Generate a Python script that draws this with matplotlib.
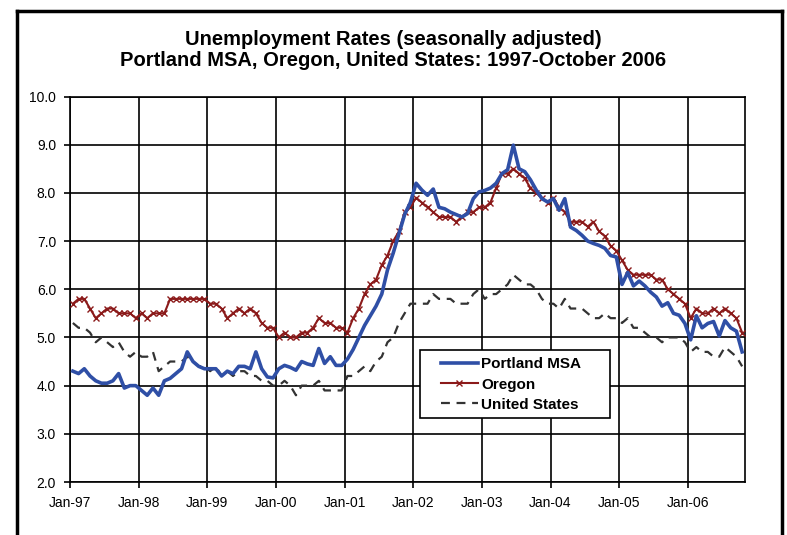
import numpy as np
import matplotlib.pyplot as plt
from matplotlib.lines import Line2D
from matplotlib.patches import Rectangle

plt.rcParams['font.family'] = ['Liberation Sans', 'DejaVu Sans']

# monthly values, Jan-97 .. Oct-06
portland = [
    4.3, 4.25, 4.35, 4.2, 4.1, 4.05, 4.05, 4.1, 4.25, 3.95, 4.0, 4.0,
    3.9, 3.8, 3.95, 3.8, 4.1, 4.15, 4.25, 4.35, 4.7, 4.5, 4.4, 4.35,
    4.35, 4.35, 4.2, 4.3, 4.25, 4.4, 4.4, 4.35, 4.7, 4.35, 4.18, 4.16,
    4.35, 4.42, 4.38, 4.32, 4.5, 4.45, 4.42, 4.77, 4.46, 4.6, 4.42, 4.42,
    4.55, 4.75, 5.0, 5.25, 5.45, 5.65, 5.9, 6.4, 6.75, 7.15, 7.55, 7.8,
    8.2, 8.06, 7.95, 8.08, 7.7, 7.67, 7.6, 7.55, 7.5, 7.57, 7.88, 8.02,
    8.05, 8.1, 8.2, 8.4, 8.48, 8.99, 8.5, 8.44, 8.27, 8.06, 7.88, 7.81,
    7.88, 7.64, 7.88, 7.29, 7.22, 7.12, 7.0, 6.95, 6.91, 6.85, 6.7, 6.67,
    6.1, 6.35, 6.07, 6.17, 6.07, 5.94, 5.84, 5.65, 5.72, 5.5, 5.46, 5.29,
    4.95, 5.45, 5.2, 5.29, 5.33, 5.03, 5.35, 5.2, 5.13, 4.7,
]
oregon = [
    5.7, 5.8, 5.8, 5.6, 5.4, 5.5, 5.6, 5.6, 5.5, 5.5, 5.5, 5.4,
    5.5, 5.4, 5.5, 5.5, 5.5, 5.8, 5.8, 5.8, 5.8, 5.8, 5.8, 5.8,
    5.7, 5.7, 5.6, 5.4, 5.5, 5.6, 5.5, 5.6, 5.5, 5.3, 5.2, 5.2,
    5.0, 5.1, 5.0, 5.0, 5.1, 5.1, 5.2, 5.4, 5.3, 5.3, 5.2, 5.2,
    5.1, 5.4, 5.6, 5.9, 6.1, 6.2, 6.5, 6.7, 7.0, 7.2, 7.6, 7.7,
    7.9, 7.8, 7.7, 7.6, 7.5, 7.5, 7.5, 7.4, 7.5, 7.6, 7.6, 7.7,
    7.7, 7.8, 8.1, 8.4, 8.4, 8.5, 8.4, 8.3, 8.1, 8.0, 7.9, 7.8,
    7.9, 7.7, 7.6, 7.4, 7.4, 7.4, 7.3, 7.4, 7.2, 7.1, 6.9, 6.8,
    6.6, 6.4, 6.3, 6.3, 6.3, 6.3, 6.2, 6.2, 6.0, 5.9, 5.8, 5.7,
    5.4, 5.6, 5.5, 5.5, 5.6, 5.5, 5.6, 5.5, 5.4, 5.1,
]
united_states = [
    5.3, 5.2, 5.2, 5.1, 4.9, 5.0, 4.9, 4.8, 4.9, 4.7, 4.6, 4.7,
    4.6, 4.6, 4.7, 4.3, 4.4, 4.5, 4.5, 4.5, 4.6, 4.5, 4.4, 4.4,
    4.3, 4.4, 4.2, 4.3, 4.2, 4.3, 4.3, 4.2, 4.2, 4.1, 4.1, 4.0,
    4.0, 4.1, 4.0, 3.8, 4.0, 4.0, 4.0, 4.1, 3.9, 3.9, 3.9, 3.9,
    4.2, 4.2, 4.3, 4.4, 4.3, 4.5, 4.6, 4.9, 5.0, 5.3, 5.5, 5.7,
    5.7, 5.7, 5.7, 5.9, 5.8, 5.8, 5.8, 5.7, 5.7, 5.7, 5.9, 6.0,
    5.8, 5.9, 5.9, 6.0, 6.1, 6.3, 6.2, 6.1, 6.1, 6.0, 5.8, 5.7,
    5.7, 5.6, 5.8, 5.6, 5.6, 5.6, 5.5, 5.4, 5.4, 5.5, 5.4, 5.4,
    5.3, 5.4, 5.2, 5.2, 5.1, 5.0, 5.0, 4.9, 5.0, 5.0, 5.0, 4.9,
    4.7, 4.8, 4.7, 4.7, 4.6, 4.6, 4.8, 4.7, 4.6, 4.4,
]
year_labels = ['Jan-97', 'Jan-98', 'Jan-99', 'Jan-00', 'Jan-01',
               'Jan-02', 'Jan-03', 'Jan-04', 'Jan-05', 'Jan-06']

# points sit in the middle of each month (date axis, between tick marks)
x = np.arange(len(portland)) + 0.5

fig = plt.figure(figsize=(7.87, 5.35), dpi=100)
ax = fig.add_axes([70 / 787, 1 - 482 / 535, 675 / 787, 385.5 / 535])

ax.plot(x, portland, color='#2f4fa6', linewidth=2.6, label='Portland MSA', zorder=4)
ax.plot(x, oregon, color='#8b1a1a', linewidth=1.5, marker='x', markersize=5,
        markeredgewidth=1.0, label='Oregon', zorder=3)
ax.plot(x, united_states, color='#333333', linewidth=1.6, dashes=(4, 3),
        label='United States', zorder=2)

ax.set_xlim(0, 118)
ax.set_ylim(2, 10)
ax.set_yticks(np.arange(2, 11, 1))
ax.set_yticklabels([f'{v:.1f}' for v in np.arange(2, 11, 1)])
ax.set_xticks(np.arange(0, 120, 12))
ax.set_xticklabels(year_labels)
ax.tick_params(axis='both', labelsize=10, direction='out', length=4, width=1.2,
               color='black', pad=6)
ax.grid(True, color='black', linewidth=1.2)
ax.set_axisbelow(True)
for s in ax.spines.values():
    s.set_linewidth(1.2)
    s.set_color('black')

# legend box: Excel-style, wide side padding
box = Rectangle((0.5185, 0.166), 0.2815, 0.176, transform=ax.transAxes,
                facecolor='white', edgecolor='black', linewidth=1.2,
                zorder=5, clip_on=False)
ax.add_patch(box)
leg = ax.legend(loc='upper left', bbox_to_anchor=(0.5496, 0.323), frameon=False,
                numpoints=1, prop={'weight': 'bold', 'size': 11},
                handlelength=2.4, borderpad=0, labelspacing=0.4,
                handletextpad=0.25, borderaxespad=0)
leg.set_zorder(6)

fig.text(0.5, 1 - 39.5 / 535, 'Unemployment Rates (seasonally adjusted)',
         ha='center', va='center', fontsize=14.5, fontweight='bold')
fig.text(0.5, 1 - 61 / 535, 'Portland MSA, Oregon, United States: 1997-October 2006',
         ha='center', va='center', fontsize=14.5, fontweight='bold')

# outer frame (left, top, right)
fig.add_artist(Line2D([17 / 787, 17 / 787], [0, 1 - 11 / 535], color='black', linewidth=2.5))
fig.add_artist(Line2D([17 / 787, 782 / 787], [1 - 11 / 535, 1 - 11 / 535], color='black', linewidth=2.5))
fig.add_artist(Line2D([782 / 787, 782 / 787], [0, 1 - 11 / 535], color='black', linewidth=2.5))

fig.savefig('out.png', dpi=100)
